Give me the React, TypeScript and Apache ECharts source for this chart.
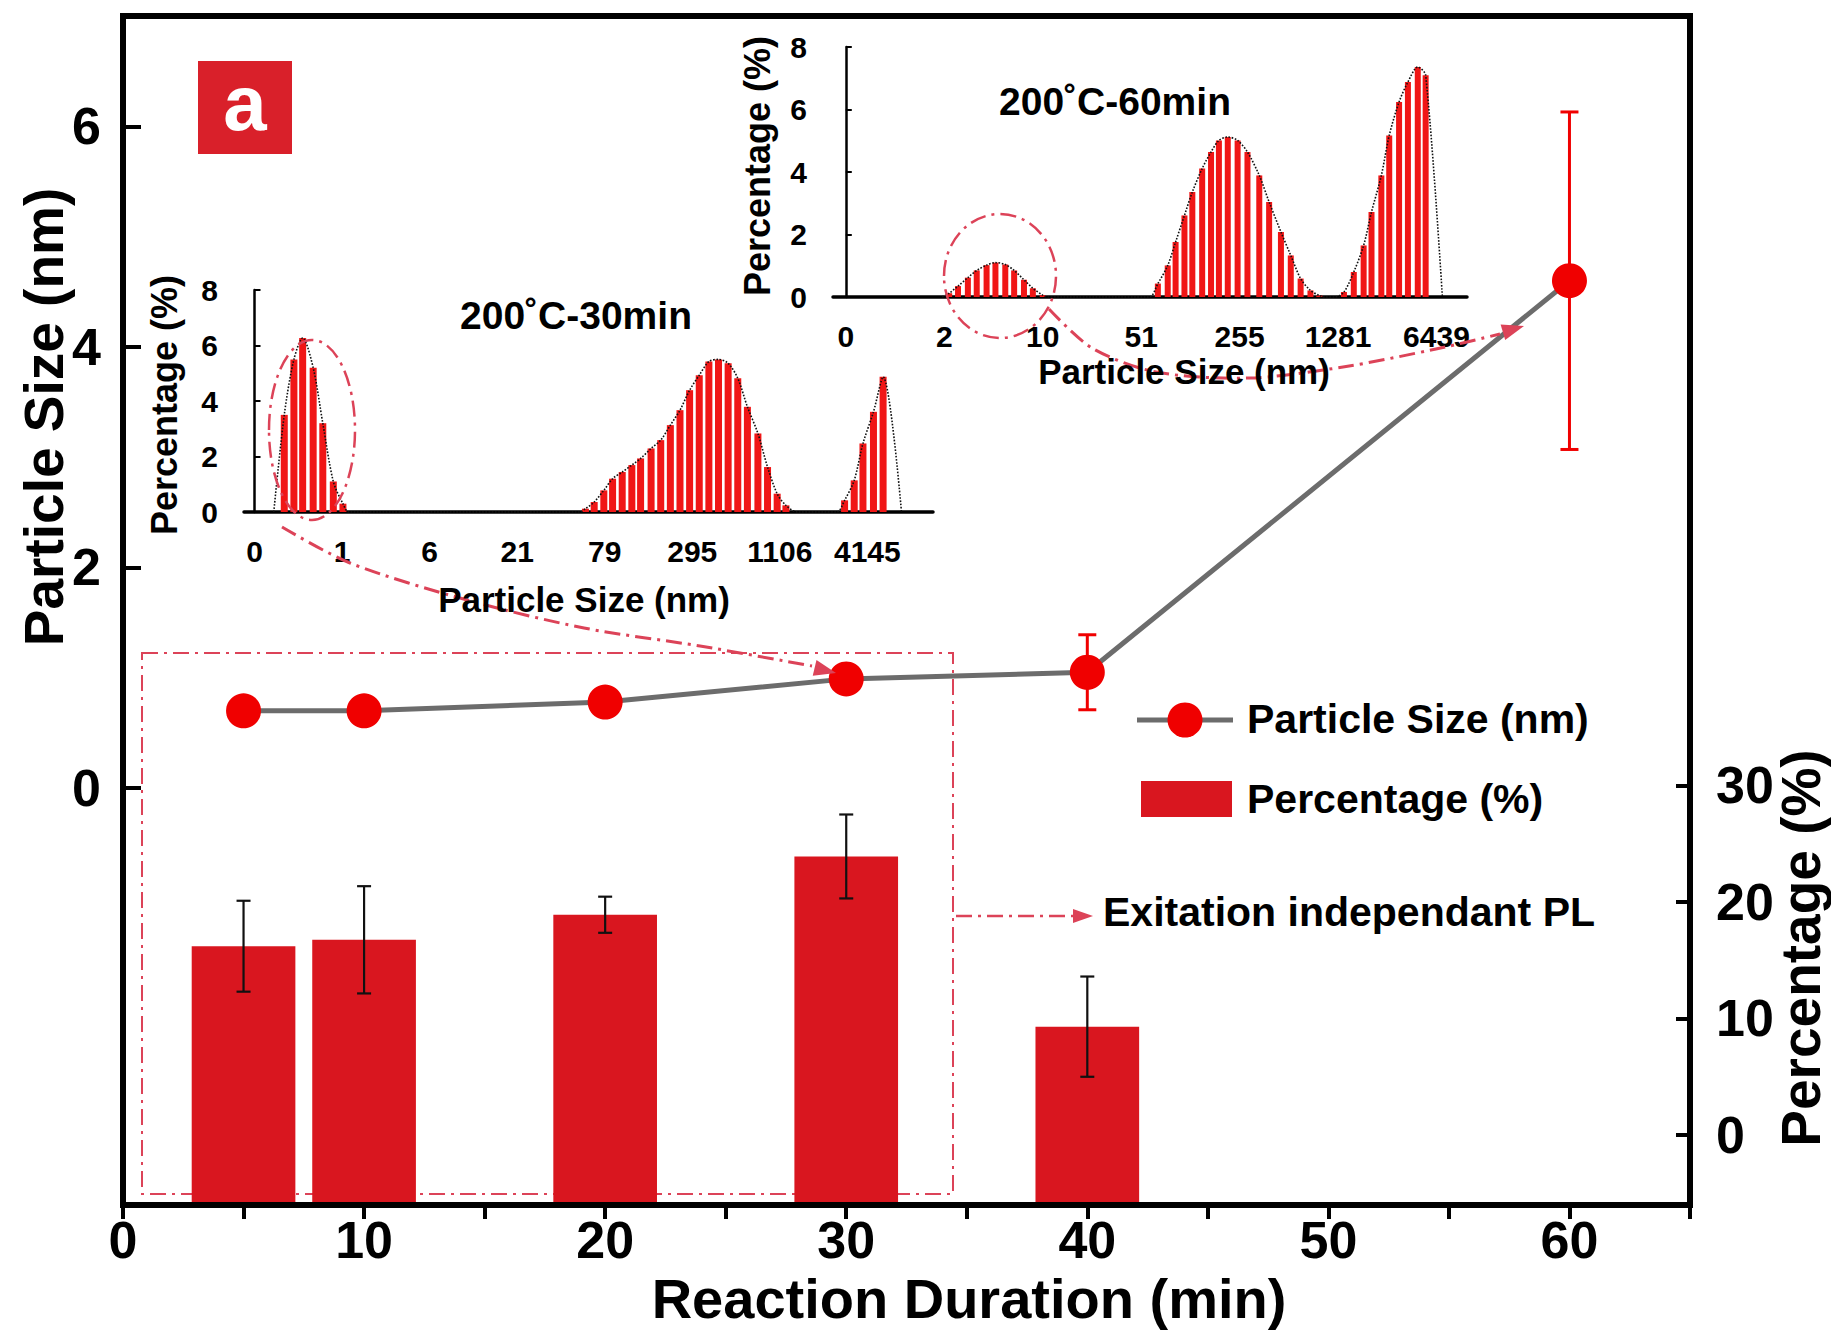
import React, { useEffect, useRef } from "react";
import * as echarts from "echarts";

// ---------------- data ----------------
const durations = [5, 10, 20, 30, 40, 60];
const particleSize = [0.7, 0.7, 0.78, 0.99, 1.05, 4.6];
const particleSizeErr = [0, 0, 0, 0, 0.34, 1.53];

const pctDurations = [5, 10, 20, 30, 40];
const percentage = [16.2, 16.75, 18.9, 23.9, 9.3];
const percentageErr = [3.9, 4.6, 1.55, 3.6, 4.3];

const xTickLabels = [0, 10, 20, 30, 40, 50, 60];
const leftTickLabels = [0, 2, 4, 6];
const rightTickLabels = [0, 10, 20, 30];

const inset30Labels = ["0", "1", "6", "21", "79", "295", "1106", "4145"];
const inset60Labels = ["0", "2", "10", "51", "255", "1281", "6439"];

// [position in label-index units, percentage]
const hist30: number[][] = [
  [0.22, 0], [0.34, 3.5], [0.45, 5.5], [0.55, 6.27], [0.67, 5.2], [0.78, 3.2], [0.9, 1.1], [1.01, 0.3], [1.08, 0],
  [3.72, 0], [3.78, 0.12], [3.88, 0.36], [3.99, 0.78], [4.09, 1.2], [4.2, 1.44], [4.31, 1.69], [4.41, 1.93],
  [4.53, 2.29], [4.64, 2.59], [4.75, 3.13], [4.86, 3.67], [4.97, 4.39], [5.08, 4.93], [5.19, 5.42], [5.3, 5.5],
  [5.41, 5.36], [5.52, 4.82], [5.63, 3.79], [5.75, 2.83], [5.86, 1.62], [5.97, 0.66], [6.07, 0.24], [6.2, 0],
  [6.65, 0], [6.74, 0.42], [6.85, 1.14], [6.95, 2.47], [7.07, 3.61], [7.18, 4.87], [7.39, 0],
];
const hist60: number[][] = [
  [0.98, 0], [1.05, 0.12], [1.14, 0.35], [1.24, 0.62], [1.33, 0.85], [1.43, 1.02], [1.52, 1.1], [1.62, 1.04],
  [1.71, 0.85], [1.81, 0.55], [1.9, 0.28], [2.0, 0.06], [2.05, 0],
  [3.08, 0], [3.17, 0.43], [3.27, 1.01], [3.35, 1.76], [3.44, 2.61], [3.52, 3.36], [3.62, 4.11], [3.71, 4.64],
  [3.79, 5.01], [3.88, 5.12], [3.98, 5.01], [4.08, 4.64], [4.2, 3.89], [4.3, 3.04], [4.42, 2.08], [4.52, 1.33],
  [4.62, 0.59], [4.72, 0.21], [4.81, 0.05], [4.86, 0],
  [4.97, 0], [5.06, 0.16], [5.16, 0.8], [5.26, 1.65], [5.34, 2.72], [5.44, 3.89], [5.52, 5.17], [5.62, 6.24],
  [5.71, 6.88], [5.81, 7.36], [5.89, 7.1], [6.06, 0],
];

// ---------------- style ----------------
const FONT = "'Liberation Sans', Arial, Helvetica, sans-serif";
const BAR_RED = "#d9161f";
const MARK_RED = "#f00000";
const HIST_RED = "#f01616";
const DASH_RED = "#dc4358";
const LINE_GRAY = "#6c6c6c";
const DASH = [16, 6, 3, 6];

function arrowHead(tip: number[], from: number[], len = 22, half = 8) {
  const dx = tip[0] - from[0];
  const dy = tip[1] - from[1];
  const n = Math.hypot(dx, dy);
  const ux = dx / n, uy = dy / n;
  const bx = tip[0] - ux * len, by = tip[1] - uy * len;
  return {
    type: "polygon",
    z: 50,
    shape: { points: [tip, [bx - uy * half, by + ux * half], [bx + uy * half, by - ux * half]] },
    style: { fill: DASH_RED },
  };
}

function txt(text: string, x: number, y: number, size: number, opts: any = {}) {
  return {
    type: "text",
    x,
    y,
    z: 60,
    rotation: opts.rotation || 0,
    style: {
      text,
      fill: opts.fill || "#000",
      fontSize: size,
      lineHeight: opts.lineHeight || size,
      fontWeight: "bold",
      fontFamily: FONT,
      align: opts.align || "center",
      verticalAlign: "middle",
    },
  };
}

function buildOption() {
  const arrow1 = [[282, 527], [350, 563], [467, 600], [584, 628], [700, 646], [812, 666]];
  const arrow2 = [[1049, 309], [1092, 348], [1156, 372], [1249, 378], [1343, 367], [1436, 349], [1500, 334]];

  const errRender = (color: string, lw: number, cap: number) => (params: any, api: any) => {
    const x = api.value(0), v = api.value(1), e = api.value(2);
    if (!e) return { type: "group", children: [] };
    const hi = api.coord([x, v + e]);
    const lo = api.coord([x, v - e]);
    const st = { stroke: color, lineWidth: lw };
    return {
      type: "group",
      children: [
        { type: "line", shape: { x1: hi[0], y1: hi[1], x2: lo[0], y2: lo[1] }, style: st },
        { type: "line", shape: { x1: hi[0] - cap, y1: hi[1], x2: hi[0] + cap, y2: hi[1] }, style: st },
        { type: "line", shape: { x1: lo[0] - cap, y1: lo[1], x2: lo[0] + cap, y2: lo[1] }, style: st },
      ],
    };
  };

  const mainLabel = { fontSize: 52, lineHeight: 50, fontWeight: "bold", fontFamily: FONT, color: "#000" };
  const insetLabel = { fontSize: 30, lineHeight: 30, fontWeight: "bold", fontFamily: FONT, color: "#000" };

  return {
    animation: false,
    backgroundColor: "#fff",
    grid: [
      { left: 123, top: 16, width: 1567, height: 1189, show: true, borderColor: "#000", borderWidth: 6, backgroundColor: "transparent" },
      { left: 244, top: 290, width: 689, height: 222 },
      { left: 833, top: 47, width: 634, height: 250 },
    ],
    xAxis: [
      {
        type: "value", gridIndex: 0, min: 0, max: 65, interval: 5,
        axisLine: { show: false, onZero: false },
        axisTick: { show: true, inside: false, length: 14, lineStyle: { color: "#000", width: 4 } },
        axisLabel: { ...mainLabel, margin: 10, customValues: xTickLabels },
        splitLine: { show: false },
      },
      {
        type: "value", gridIndex: 1, min: -0.12, max: 7.75,
        axisLine: { show: true, lineStyle: { color: "#000", width: 3.5 } },
        axisTick: { show: false },
        axisLabel: { ...insetLabel, margin: 24, customValues: inset30Labels.map((_, i) => i), formatter: (v: number) => inset30Labels[Math.round(v)] },
        splitLine: { show: false },
      },
      {
        type: "value", gridIndex: 2, min: -0.13, max: 6.31,
        axisLine: { show: true, lineStyle: { color: "#000", width: 3.5 } },
        axisTick: { show: false },
        axisLabel: { ...insetLabel, margin: 24, customValues: inset60Labels.map((_, i) => i), formatter: (v: number) => inset60Labels[Math.round(v)] },
        splitLine: { show: false },
      },
    ],
    yAxis: [
      {
        type: "value", gridIndex: 0, position: "left", min: -3.78, max: 7,
        axisLine: { show: false, onZero: false },
        axisTick: { show: true, inside: true, length: 18, lineStyle: { color: "#000", width: 4 }, customValues: leftTickLabels },
        axisLabel: { ...mainLabel, margin: 22, customValues: leftTickLabels },
        splitLine: { show: false },
      },
      {
        type: "value", gridIndex: 0, position: "right", min: -6, max: 96,
        axisLine: { show: false, onZero: false },
        axisTick: { show: true, inside: true, length: 14, lineStyle: { color: "#000", width: 4 }, customValues: rightTickLabels },
        axisLabel: { ...mainLabel, margin: 26, customValues: rightTickLabels },
        splitLine: { show: false },
      },
      {
        type: "value", gridIndex: 1, min: 0, max: 8, interval: 2,
        axisLine: { show: true, onZero: true, lineStyle: { color: "#000", width: 2.5 } },
        axisTick: { show: true, inside: true, length: 6, lineStyle: { color: "#000", width: 2 } },
        axisLabel: { ...insetLabel, margin: 26 },
        splitLine: { show: false },
      },
      {
        type: "value", gridIndex: 2, min: 0, max: 8, interval: 2,
        axisLine: { show: true, onZero: true, lineStyle: { color: "#000", width: 2.5 } },
        axisTick: { show: true, inside: true, length: 6, lineStyle: { color: "#000", width: 2 } },
        axisLabel: { ...insetLabel, margin: 26 },
        splitLine: { show: false },
      },
    ],
    series: [
      {
        name: "Percentage (%)",
        type: "custom",
        xAxisIndex: 0,
        yAxisIndex: 1,
        z: 2,
        encode: { x: 0, y: 1 },
        data: pctDurations.map((d, i) => [d, percentage[i]]),
        renderItem: (params: any, api: any) => {
          const top = api.coord([api.value(0), api.value(1)]);
          const w = api.size([4.3, 0])[0];
          const bottom = params.coordSys.y + params.coordSys.height - 3;
          return { type: "rect", shape: { x: top[0] - w / 2, y: top[1], width: w, height: bottom - top[1] }, style: { fill: BAR_RED } };
        },
      },
      {
        type: "custom",
        xAxisIndex: 0,
        yAxisIndex: 1,
        z: 3,
        encode: { x: 0, y: 1 },
        data: pctDurations.map((d, i) => [d, percentage[i], percentageErr[i]]),
        renderItem: errRender("#111", 2.2, 7),
      },
      {
        type: "custom",
        xAxisIndex: 0,
        yAxisIndex: 0,
        z: 3,
        encode: { x: 0, y: 1 },
        data: durations.map((d, i) => [d, particleSize[i], particleSizeErr[i]]),
        renderItem: errRender(MARK_RED, 3, 9),
      },
      {
        name: "Particle Size (nm)",
        type: "line",
        xAxisIndex: 0,
        yAxisIndex: 0,
        z: 5,
        data: durations.map((d, i) => [d, particleSize[i]]),
        symbol: "circle",
        symbolSize: 35,
        itemStyle: { color: MARK_RED },
        lineStyle: { color: LINE_GRAY, width: 5 },
      },
      {
        type: "bar",
        xAxisIndex: 1,
        yAxisIndex: 2,
        barWidth: 7,
        data: hist30,
        itemStyle: { color: HIST_RED },
        z: 2,
      },
      {
        type: "line",
        xAxisIndex: 1,
        yAxisIndex: 2,
        data: hist30,
        smooth: 0.3,
        showSymbol: false,
        symbol: "none",
        lineStyle: { color: "#111", width: 1.6, type: "dotted" },
        z: 3,
      },
      {
        type: "bar",
        xAxisIndex: 2,
        yAxisIndex: 3,
        barWidth: 6,
        data: hist60,
        itemStyle: { color: HIST_RED },
        z: 2,
      },
      {
        type: "line",
        xAxisIndex: 2,
        yAxisIndex: 3,
        data: hist60,
        smooth: 0.3,
        showSymbol: false,
        symbol: "none",
        lineStyle: { color: "#111", width: 1.6, type: "dotted" },
        z: 3,
      },
    ],
    graphic: [
      // panel label
      { type: "rect", z: 40, shape: { x: 198, y: 61, width: 94, height: 93 }, style: { fill: "#d9202a" } },
      txt("a", 245, 103, 78, { fill: "#fff" }),
      // dashed box
      { type: "rect", z: 1, shape: { x: 142, y: 653, width: 811, height: 541 }, style: { fill: "none", stroke: DASH_RED, lineWidth: 2, lineDash: DASH } },
      // ellipses
      { type: "ellipse", z: 50, shape: { cx: 312, cy: 430, rx: 43, ry: 90 }, style: { fill: "none", stroke: DASH_RED, lineWidth: 2.5, lineDash: DASH } },
      { type: "ellipse", z: 50, shape: { cx: 1000, cy: 276, rx: 56, ry: 62 }, style: { fill: "none", stroke: DASH_RED, lineWidth: 2.5, lineDash: DASH } },
      // arrows
      { type: "polyline", z: 50, shape: { points: arrow1, smooth: 0.3 }, style: { fill: "none", stroke: DASH_RED, lineWidth: 3, lineDash: DASH } },
      arrowHead([836, 673], [740, 650]),
      { type: "polyline", z: 50, shape: { points: arrow2, smooth: 0.3 }, style: { fill: "none", stroke: DASH_RED, lineWidth: 3, lineDash: DASH } },
      arrowHead([1524, 326], [1470, 342]),
      { type: "line", z: 50, shape: { x1: 956, y1: 916, x2: 1076, y2: 916 }, style: { stroke: DASH_RED, lineWidth: 2.5, lineDash: DASH } },
      arrowHead([1093, 916], [1000, 916], 20, 7),
      txt("Exitation independant PL", 1103, 912, 41, { align: "left" }),
      // legend
      { type: "line", z: 40, shape: { x1: 1137, y1: 720, x2: 1233, y2: 720 }, style: { stroke: LINE_GRAY, lineWidth: 5 } },
      { type: "circle", z: 41, shape: { cx: 1185, cy: 720, r: 17.5 }, style: { fill: MARK_RED } },
      txt("Particle Size (nm)", 1247, 719, 41, { align: "left" }),
      { type: "rect", z: 40, shape: { x: 1141, y: 781, width: 91, height: 36 }, style: { fill: BAR_RED } },
      txt("Percentage (%)", 1247, 799, 41, { align: "left" }),
      // main axis titles
      txt("Particle Size (nm)", 44, 417, 55, { rotation: Math.PI / 2 }),
      txt("Percentage (%)", 1801, 948, 55, { rotation: Math.PI / 2, lineHeight: 48 }),
      txt("Reaction Duration (min)", 969, 1298, 56, { lineHeight: 52 }),
      // inset titles
      txt("200\u02DAC-30min", 576, 315, 39),
      txt("200\u02DAC-60min", 1115, 101, 39),
      txt("Particle Size (nm)", 584, 599, 35),
      txt("Particle Size (nm)", 1184, 371, 35, { lineHeight: 32 }),
      txt("Percentage (%)", 164, 405, 36, { rotation: Math.PI / 2 }),
      txt("Percentage (%)", 757, 166, 36, { rotation: Math.PI / 2 }),
    ],
  };
}

export default function App() {
  const ref = useRef<HTMLDivElement>(null);
  useEffect(() => {
    document.body.style.margin = "0";
    if (!ref.current) return;
    const chart = echarts.init(ref.current, undefined, { renderer: "svg" });
    chart.setOption(buildOption() as any);
    return () => chart.dispose();
  }, []);
  return <div ref={ref} style={{ width: 1831, height: 1331 }} />;
}
